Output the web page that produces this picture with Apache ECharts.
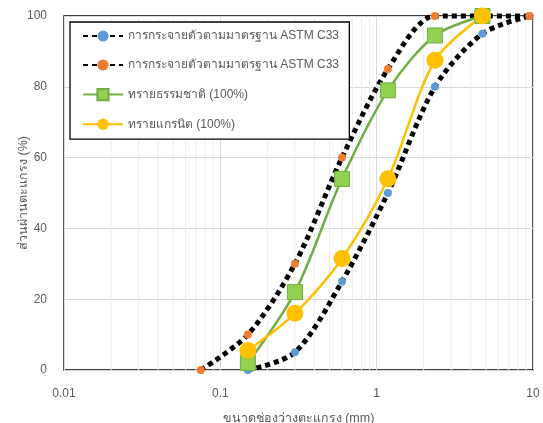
<!DOCTYPE html>
<html><head><meta charset="utf-8">
<script src="https://cdn.jsdelivr.net/npm/echarts@6/dist/echarts.min.js"></script>
<style>html,body{margin:0;padding:0;background:#fff}#c{width:543px;height:423px}</style>
</head><body><div id="c"></div>
<script>
const lowerSieve = [0.15, 0.3, 0.6, 1.18, 2.36, 4.75, 9.5];
const astmLower = [0, 5, 25, 50, 80, 95, 100];
const upperSieve = [0.075, 0.15, 0.3, 0.6, 1.18, 2.36, 4.75, 9.5];
const astmUpper = [0, 10, 30, 60, 85, 100, 100, 100];
const sandSieve = [0.15, 0.3, 0.6, 1.18, 2.36, 4.75];
const naturalSand = [2, 22, 54, 79, 94.5, 100];
const graniteSand = [5.5, 16, 31.5, 54, 87.5, 100];
const xTicks = [0.01, 0.1, 1, 10];
const yTicks = [0, 20, 40, 60, 80, 100];
const minorX = [];
[0.01, 0.1, 1].forEach(d => { for (let k = 2; k <= 9; k++) minorX.push(+(d * k).toFixed(3)); });

const names = ['การกระจายตัวตามมาตรฐาน ASTM C33', 'การกระจายตัวตามมาตรฐาน ASTM C33 ', 'ทรายธรรมชาติ (100%)', 'ทรายแกรนิต (100%)'];
const pair = (xs, ys) => xs.map((x, i) => [x, ys[i]]);
const font = "'Liberation Sans', sans-serif";
const chart = echarts.init(document.getElementById('c'));
chart.setOption({
  animation: false,
  textStyle: { fontFamily: font },
  grid: { left: 64, right: 10, top: 16, bottom: 53, show: true, borderColor: '#000', borderWidth: 1.3, containLabel: false, outerBoundsMode: 'none' },
  legend: {
    orient: 'vertical', left: 70, top: 22, itemWidth: 40, itemHeight: 14, itemGap: 17,
    padding: [8, 7, 9, 12], borderColor: '#000', borderWidth: 1.3, backgroundColor: '#fff',
    textStyle: { color: '#595959', fontSize: 12, fontFamily: font },
    data: names
  },
  xAxis: {
    type: 'log', logBase: 10, min: 0.01, max: 10,
    name: 'ขนาดช่องว่างตะแกรง (mm)', nameLocation: 'middle', nameGap: 42, nameMoveOverlap: false,
    nameTextStyle: { color: '#595959', fontSize: 12.5 },
    axisLine: { show: false }, axisTick: { show: false },
    axisLabel: { color: '#595959', fontSize: 12, margin: 18, formatter: v => { const t = xTicks.find(a => Math.abs(a - v) / a < 1e-6); return t === undefined ? '' : String(t); } },
    splitLine: { show: true, lineStyle: { color: '#D9D9D9', width: 1 } }
  },
  yAxis: {
    type: 'value', min: 0, max: 100, interval: 20,
    name: 'ส่วนผ่านตะแกรง (%)', nameLocation: 'middle', nameGap: 34, nameMoveOverlap: false,
    nameTextStyle: { color: '#595959', fontSize: 12.5 },
    axisLine: { show: false }, axisTick: { show: false },
    axisLabel: { color: '#595959', fontSize: 12, margin: 17 },
    splitLine: { show: true, lineStyle: { color: '#D9D9D9', width: 1 } }
  },
  series: [
    {
      type: 'custom', name: 'minor', data: minorX.map(v => [v, 0]), silent: true, z: 1, clip: true,
      renderItem: (params, api) => {
        const x = api.value(0);
        const p0 = api.coord([x, 0]);
        const p1 = api.coord([x, 100]);
        return { type: 'line', shape: { x1: p0[0], y1: p0[1], x2: p1[0], y2: p1[1] },
          style: { stroke: '#EDEDED', lineWidth: 1 } };
      },
      encode: { x: 0, y: 1 }
    },
    {
      type: 'line', name: names[0], data: pair(lowerSieve, astmLower), smooth: 0.3, clip: false,
      symbol: 'circle', symbolSize: 8, showAllSymbol: true,
      itemStyle: { color: '#5B9BD5' },
      lineStyle: { color: '#000', width: 5, type: [5, 4], cap: 'butt' }
    },
    {
      type: 'line', name: names[1], data: pair(upperSieve, astmUpper), smooth: 0.3, clip: false,
      symbol: 'circle', symbolSize: 8, showAllSymbol: true,
      itemStyle: { color: '#ED7D31' },
      lineStyle: { color: '#000', width: 5, type: [5, 4], cap: 'butt' }
    },
    {
      type: 'line', name: names[2], data: pair(sandSieve, naturalSand), smooth: 0.3, clip: false,
      symbol: 'rect', symbolSize: 15, showAllSymbol: true,
      itemStyle: { color: '#92D050', borderColor: '#70AD47', borderWidth: 1 },
      lineStyle: { color: '#70AD47', width: 2.5 }
    },
    {
      type: 'line', name: names[3], data: pair(sandSieve, graniteSand), smooth: 0.3, clip: false,
      symbol: 'circle', symbolSize: 17, showAllSymbol: true,
      itemStyle: { color: '#FFC000' },
      lineStyle: { color: '#FFC000', width: 2.5 }
    }
  ]
});
</script></body></html>
